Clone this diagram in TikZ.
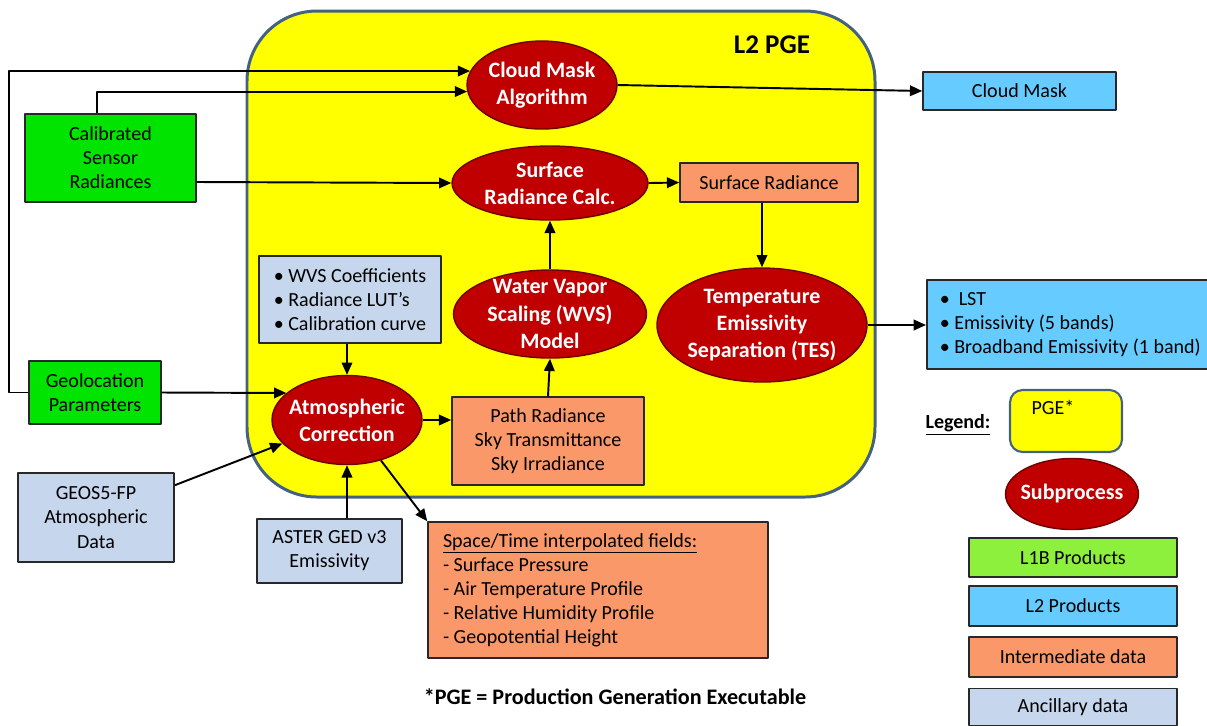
\documentclass[tikz,border=0pt]{standalone}
\usepackage{fontspec}
\setmainfont{Carlito}
\usetikzlibrary{shapes.geometric,arrows.meta}
\definecolor{pgeyellow}{RGB}{255,255,0}
\definecolor{pgeedge}{RGB}{68,98,128}
\definecolor{procred}{RGB}{192,0,0}
\definecolor{procedge}{RGB}{110,0,0}
\definecolor{lonegreen}{RGB}{0,228,0}
\definecolor{keygreen}{RGB}{140,240,60}
\definecolor{ltwoblue}{RGB}{102,204,255}
\definecolor{midorange}{RGB}{250,152,105}
\definecolor{ancblue}{RGB}{198,214,236}
\definecolor{boxedge}{RGB}{40,40,40}
\begin{document}
\begin{tikzpicture}[x=0.02cm, y=-0.02cm, line join=round, >={Triangle[length=7pt,width=6pt]},
	proc/.style={ellipse, draw=procedge, line width=0.8pt, fill=procred, text=white, inner sep=-6pt, align=center, font=\fontsize{12.5}{15.4}\selectfont\bfseries},
	databox/.style={rectangle, draw=boxedge, line width=0.9pt, inner sep=0pt, align=center, font=\fontsize{11.4}{13.7}\selectfont},
	flow/.style={->, line width=1.1pt}]
			\useasboundingbox (0,0) rectangle (1207,725);
			% L2 PGE frame
			\draw [fill=pgeyellow, draw=pgeedge, line width=1.7pt, rounded corners=1.4cm] (247,11) rectangle (875,497);
			\node [font=\fontsize{15.4}{18}\selectfont\bfseries] (pgetitle) at (772,45) {L2 PGE};
			% Subprocesses
			\node [proc, minimum width=3cm, minimum height=1.76cm] (cma) at (542,85) {Cloud Mask\\Algorithm};
			\node [proc, minimum width=3.92cm, minimum height=1.48cm] (src) at (550,183) {Surface\\Radiance Calc.};
			\node [proc, minimum width=3.86cm, minimum height=1.76cm] (wvs) at (550,314) {Water Vapor\\Scaling (WVS)\\Model};
			\node [proc, minimum width=4.2cm, minimum height=2.28cm] (tes) at (762,325) {Temperature\\Emissivity\\Separation (TES)};
			\node [proc, minimum width=3cm, minimum height=1.78cm] (atm) at (347,420) {Atmospheric\\Correction};
			% Data boxes
			\node [databox, fill=lonegreen, minimum width=3.42cm, minimum height=1.76cm] (calib) at (110.5,158) {Calibrated\\Sensor\\Radiances};
			\node [databox, fill=lonegreen, minimum width=2.64cm, minimum height=1.26cm] (geo) at (95,392.5) {Geolocation\\Parameters};
			\node [databox, fill=ancblue, minimum width=3.64cm, minimum height=1.74cm, align=left] (wvsc) at (350,299.5) {\textbullet\ WVS Coefficients\\\textbullet\ Radiance LUT’s\\\textbullet\ Calibration curve};
			\node [databox, fill=ancblue, minimum width=3.12cm, minimum height=1.78cm] (geos) at (96,517.5) {GEOS5-FP\\Atmospheric\\Data};
			\node [databox, fill=ancblue, minimum width=2.9cm, minimum height=1.28cm] (aster) at (329.5,551) {ASTER GED v3\\Emissivity};
			\node [databox, fill=midorange, minimum width=3.84cm, minimum height=1.76cm] (pathr) at (548,441) {Path Radiance\\Sky Transmittance\\Sky Irradiance};
			\node [databox, fill=midorange, minimum width=3.56cm, minimum height=0.78cm] (sr) at (769,182.5) {Surface Radiance};
			\node [databox, fill=midorange, text width=6.2cm, inner xsep=0.3cm, minimum height=2.72cm, align=flush left] (stf) at (598,590) {\underline{Space/Time interpolated fields:}\\- Surface Pressure\\- Air Temperature Profile\\- Relative Humidity Profile\\- Geopotential Height};
			\node [databox, fill=ltwoblue, minimum width=3.86cm, minimum height=0.76cm] (cmbox) at (1019.5,91) {Cloud Mask};
			\node [databox, fill=ltwoblue, text width=6.5cm, inner xsep=0.26cm, minimum height=1.78cm, align=flush left, anchor=west] (lst) at (926,324.5) {\textbullet\ \ LST\\\textbullet\ Emissivity (5 bands)\\\textbullet\ Broadband Emissivity (1 band)};
			% Connectors
			\draw [flow] (geo.west) -- ++(-19,0) |- (cma.169);
			\draw [flow] ([xshift=-0.27cm]calib.north) |- (cma.185);
			\draw [flow] ([yshift=-0.48cm]calib.east) -- (src.west);
			\draw [flow] (cma.east) -- (cmbox.west);
			\draw [flow] (src.east) -- (sr.west);
			\draw [flow] (tes.north |- sr.south) -- (tes.north);
			\draw [flow] (wvs.north) -- (src.south);
			\draw [flow] (pathr.north) -- (wvs.south);
			\draw [flow] (tes.east) -- (tes.east -| lst.west);
			\draw [flow] (atm.north |- wvsc.south) -- (atm.north);
			\draw [flow] (geo.east) -- (atm.156);
			\draw [flow] ([yshift=-0.26cm]geos.north east) -- (atm.200);
			\draw [flow] (atm.south |- aster.north) -- (atm.south);
			\draw [flow] (atm.east) -- (atm.east -| pathr.west);
			\draw [flow] (atm.-50) -- (stf.north west);
			% Legend
			\node [font=\fontsize{11.4}{13.7}\selectfont\bfseries] (legtitle) at (958,425) {\underline{Legend:}};
			\node [draw=pgeedge, line width=1.2pt, fill=pgeyellow, rounded corners=0.25cm, minimum width=2.24cm, minimum height=1.24cm] (pgekey) at (1066,421) {};
			\node [font=\fontsize{11.4}{13.7}\selectfont] (pgekeytext) at (1053,407) {PGE*};
			\node [proc, minimum width=2.66cm, minimum height=1.42cm] (subkey) at (1072,494) {Subprocess};
			\node [databox, fill=keygreen, minimum width=4.16cm, minimum height=0.78cm] (lonekey) at (1073,557.5) {L1B Products};
			\node [databox, fill=ltwoblue, minimum width=4.16cm, minimum height=0.8cm] (ltwokey) at (1073,606) {L2 Products};
			\node [databox, fill=midorange, minimum width=4.16cm, minimum height=0.8cm] (midkey) at (1073,657) {Intermediate data};
			\node [databox, fill=ancblue, minimum width=4.16cm, minimum height=0.74cm] (anckey) at (1073,707) {Ancillary data};
			\node [font=\fontsize{12.6}{15}\selectfont\bfseries] (footnote) at (615,697) {*PGE = Production Generation Executable};
\end{tikzpicture}
\end{document}
